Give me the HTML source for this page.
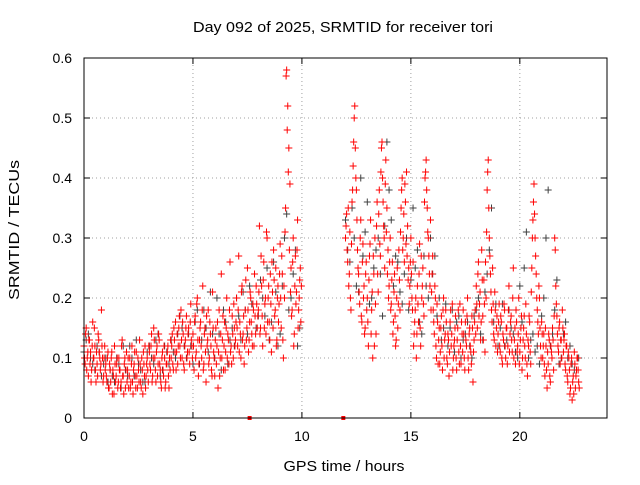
<!DOCTYPE html>
<html><head><meta charset="utf-8"><style>
body{margin:0;background:#fff;width:640px;height:480px;overflow:hidden}
svg text{font-family:"Liberation Sans",sans-serif;font-size:14px;fill:#000}
</style></head><body>
<svg id="chart" width="640" height="480" xmlns="http://www.w3.org/2000/svg">
<rect width="640" height="480" fill="#fff"/>
<text x="343" y="32" text-anchor="middle" style="font-size:15px" textLength="300" lengthAdjust="spacingAndGlyphs">Day 092 of 2025, SRMTID for receiver tori</text>
<text transform="translate(19,230) rotate(-90)" text-anchor="middle" style="font-size:15px" textLength="140" lengthAdjust="spacingAndGlyphs">SRMTID / TECUs</text>
<text x="344" y="471" text-anchor="middle" style="font-size:15px" textLength="121" lengthAdjust="spacingAndGlyphs">GPS time / hours</text>
<g id="grid"></g>
<g id="ticks"></g>
<g id="dark"></g>
<g id="red"></g>
<rect x="84" y="58" width="523" height="360" fill="none" stroke="#000" stroke-width="1"/>
</svg>
<script>
const xTicks=[0,5,10,15,20];
const yTicks=[0,0.1,0.2,0.3,0.4,0.5,0.6];
const yTickLabels=["0","0.1","0.2","0.3","0.4","0.5","0.6"];
const redStep=0.05;
const redA=[.12,.09,.15,.10,.07,.13,.11,.08,.16,.10,.12,.06,.09,.14,.11,.08,.18,.10,.07,.12,
.09,.06,.11,.05,.08,.10,.04,.07,.12,.06,.09,.05,.10,.08,.06,.13,.07,.09,.05,.11,
.08,.05,.10,.06,.12,.04,.09,.07,.11,.05,.08,.13,.06,.10,.04,.09,.12,.07,.10,.06,
.11,.08,.14,.07,.15,.10,.06,.12,.09,.13,.08,.05,.11,.07,.10,.06,.09,.12,.05,.08,
.10,.14,.08,.13,.16,.11,.09,.15,.12,.18,.10,.14,.08,.13,.17,.11,.15,.09,.19,.12,
.14,.08,.17,.11,.20,.07,.13,.16,.10,.22,.09,.15,.06,.12,.18,.10,.14,.08,.21,.11,
.07,.15,.12,.05,.18,.10,.24,.13,.08,.16,.11,.20,.14,.09,.26,.12,.17,.10,.15,.13,
.20,.12,.27,.16,.10,.22,.14,.09,.18,.13,.25,.11,.16,.20,.14,.19,.12,.17,.22,.15,
.18,.32,.15,.22,.12,.26,.19,.14,.30,.20,.16,.24,.11,.21,.28,.17,.25,.13,.22,.19,
.29,.15,.24,.10,.20,.35,.58,.52,.45,.39,.25,.18,.30,.14,.27,.21,.33,.18,.23,.16];
const redA2=[.10,.14,.08,.11,.13,.09,.06,.12,.10,.15,.08,.11,.07,.13,.10,.09,.12,.06,.10,.08,
.07,.10,.05,.09,.06,.11,.08,.04,.09,.07,.10,.06,.08,.05,.12,.07,.04,.10,.08,.06,
.10,.07,.05,.09,.06,.08,.11,.05,.07,.10,.06,.09,.05,.08,.11,.07,.05,.09,.08,.12,
.09,.12,.06,.10,.13,.08,.11,.07,.14,.09,.06,.10,.08,.12,.05,.09,.11,.07,.10,.13,
.12,.09,.15,.11,.08,.14,.12,.17,.10,.13,.16,.09,.12,.15,.10,.14,.11,.16,.13,.10,
.12,.16,.10,.19,.13,.09,.15,.12,.18,.08,.14,.11,.17,.13,.09,.16,.12,.07,.15,.10,
.13,.09,.16,.11,.07,.14,.10,.17,.12,.08,.15,.10,.13,.18,.11,.09,.14,.19,.12,.16,
.15,.18,.11,.14,.21,.13,.17,.12,.23,.15,.18,.13,.21,.16,.12,.18,.24,.14,.19,.17,
.21,.14,.27,.17,.23,.15,.20,.31,.16,.22,.13,.19,.26,.15,.23,.18,.12,.20,.16,.24,
.20,.27,.13,.22,.31,.57,.48,.41,.28,.21,.17,.26,.12,.22,.19,.28,.15,.20,.25,.22];
const redB=[.30,.34,.26,.22,.31,.18,.36,.42,.50,.45,.38,.28,.24,.19,.33,.16,.29,.22,.15,.26,
.20,.12,.27,.33,.18,.10,.24,.30,.14,.36,.21,.38,.27,.45,.40,.32,.25,.43,.35,.28,
.22,.30,.19,.26,.16,.24,.12,.20,.15,.28,.18,.35,.40,.30,.26,.36,.41,.32,.25,.22,
.30,.20,.26,.14,.18,.10,.22,.16,.29,.12,.20,.25,.17,.40,.43,.35,.30,.24,.33,.21,
.27,.16,.22,.12,.19,.09,.15,.11,.17,.08,.20,.13,.18,.10,.14,.07,.16,.12,.19,.10,
.13,.17,.08,.15,.11,.19,.09,.14,.18,.10,.16,.12,.20,.08,.15,.11,.17,.06,.13,.18,
.22,.15,.26,.19,.13,.28,.17,.23,.11,.20,.38,.43,.30,.24,.18,.25,.14,.21,.12,.17,
.14,.19,.11,.16,.09,.13,.18,.10,.15,.12,.22,.14,.17,.11,.25,.13,.09,.16,.12,.20,
.11,.15,.08,.13,.17,.10,.14,.07,.12,.16,.09,.25,.33,.39,.30,.24,.18,.14,.20,.12,
.16,.10,.14,.07,.12,.05,.09,.13,.06,.11,.15,.08,.30,.22,.17,.12,.15,.09,.13,.18,
.11,.14,.08,.12,.06,.10,.04,.09,.03,.07,.11,.05,.08,.10,.06];
const redB2=[.32,.28,.35,.24,.20,.29,.38,.46,.52,.40,.33,.25,.21,.30,.17,.26,.20,.14,.24,.18,
.16,.23,.29,.14,.21,.27,.12,.19,.32,.24,.34,.29,.41,.46,.36,.30,.39,.31,.24,.20,
.26,.18,.23,.14,.21,.17,.13,.25,.19,.23,.31,.38,.28,.34,.39,.29,.27,.23,.19,.26,
.24,.18,.12,.16,.20,.14,.19,.24,.15,.27,.22,.19,.36,.41,.38,.31,.27,.22,.18,.24,
.18,.14,.20,.10,.16,.13,.09,.15,.12,.18,.10,.14,.16,.09,.13,.11,.18,.14,.08,.12,
.15,.10,.13,.18,.09,.12,.16,.11,.14,.08,.13,.17,.10,.14,.12,.09,.15,.11,.16,.14,
.19,.24,.17,.21,.16,.23,.13,.19,.26,.31,.41,.35,.27,.21,.16,.19,.13,.18,.15,.11,
.16,.12,.17,.10,.14,.19,.12,.15,.09,.18,.11,.16,.13,.20,.10,.15,.18,.11,.14,.09,
.13,.17,.10,.15,.12,.19,.09,.13,.17,.11,.21,.30,.36,.34,.27,.20,.16,.22,.15,.10,
.14,.12,.09,.15,.08,.11,.14,.07,.12,.10,.13,.17,.28,.19,.14,.11,.16,.13,.10,.15,
.13,.09,.12,.07,.11,.08,.05,.10,.06,.04,.09,.07,.10,.08,.05];
const darkStep=0.2;
const darkA=[.13,.10,.08,.11,.09,.06,.07,.10,.05,.08,.12,.07,.09,.06,.11,.10,.13,.07,.12,.09,.11,.14,.15,.10,.12,.16,.09,.18,.11,.14,.20,.08,.16,.13,.12,.17,.21,.14,.19,.15,.23,.17,.13,.26,.12,.22,.34,.20,.28,.15];
const darkA2=[.11,.14,.09,.12,.07,.10,.08,.06,.09,.12,.07,.10,.13,.08,.06,.12,.09,.14,.08,.11,.13,.10,.17,.12,.14,.09,.18,.13,.15,.21,.10,.14,.18,.09,.15,.20,.13,.18,.22,.12,.17,.20,.25,.16,.21,.14,.30,.18,.24,.12];
const darkB=[.28,.35,.22,.40,.31,.19,.25,.30,.17,.46,.33,.27,.21,.24,.18,.35,.28,.14,.22,.30,.27,.20,.15,.12,.18,.16,.10,.14,.12,.17,.20,.13,.24,.35,.19,.15,.12,.18,.14,.10,.16,.31,.13,.11,.09,.20,.38,.14,.23,.10,.16,.12,.08,.10];
const darkB2=[.33,.26,.30,.21,.27,.36,.20,.28,.24,.32,.38,.22,.26,.19,.30,.23,.25,.16,.27,.20,.24,.17,.13,.19,.15,.11,.17,.13,.16,.10,.18,.14,.21,.28,.16,.12,.19,.13,.15,.11,.22,.25,.10,.14,.12,.17,.30,.12,.18,.09,.14,.10,.09,.08];
const zeroMarks=[7.6,11.9];

const NS="http://www.w3.org/2000/svg";
const X0=84,X1=607,Y0=418,Y1=58;
const xs=h=>X0+h/24*(X1-X0);
const ys=v=>Y0-v/0.6*(Y0-Y1);
function mk(tag,attrs,parent){const e=document.createElementNS(NS,tag);for(const k in attrs)e.setAttribute(k,attrs[k]);parent.appendChild(e);return e;}
const grid=document.getElementById('grid'),ticks=document.getElementById('ticks');
xTicks.forEach(t=>{const x=xs(t);
 if(t>0){const g=mk('line',{x1:x,x2:x,y1:Y0,y2:Y1,stroke:'#a0a0a0','stroke-dasharray':'1,3'},grid);}
 mk('line',{x1:x,x2:x,y1:Y0,y2:Y0-6,stroke:'#000'},ticks);mk('line',{x1:x,x2:x,y1:Y1,y2:Y1+6,stroke:'#000'},ticks);
 const tx=mk('text',{x:x,y:Y0+23,'text-anchor':'middle'},ticks);tx.textContent=t;
 });
yTicks.forEach((t,i)=>{const y=ys(t);
 if(t>0&&t<0.6){const g=mk('line',{x1:X0,x2:X1,y1:y,y2:y,stroke:'#a0a0a0','stroke-dasharray':'1,3'},grid);}
 mk('line',{x1:X0,x2:X0+6,y1:y,y2:y,stroke:'#000'},ticks);mk('line',{x1:X1,x2:X1-6,y1:y,y2:y,stroke:'#000'},ticks);
 const tx=mk('text',{x:X0-12,y:y+5,'text-anchor':'end'},ticks);tx.textContent=yTickLabels[i];
 });
function plus(g,h,v,color,name){const x=xs(h),y=ys(v);
 const p=mk('path',{d:`M${x-3.5},${y}H${x+3.5}M${x},${y-3.5}V${y+3.5}`,stroke:color,'stroke-width':1,fill:'none'},g);
 
 }
const dg=document.getElementById('dark'),rg=document.getElementById('red');
darkA.forEach((v,i)=>plus(dg,0.1+i*darkStep,v,'#404040','dark-point'));
darkA2.forEach((v,i)=>plus(dg,0.0+i*darkStep,v,'#404040','dark-point'));
darkB.forEach((v,i)=>plus(dg,12.1+i*darkStep,v,'#404040','dark-point'));
darkB2.forEach((v,i)=>plus(dg,12.0+i*darkStep,v,'#404040','dark-point'));
redA.forEach((v,i)=>plus(rg,0+i*redStep,v,'#ff0000','red-point'));
redA2.forEach((v,i)=>plus(rg,0.025+i*redStep,v,'#ff0000','red-point'));
redB.forEach((v,i)=>plus(rg,12+i*redStep,v,'#ff0000','red-point'));
redB2.forEach((v,i)=>plus(rg,12.025+i*redStep,v,'#ff0000','red-point'));
zeroMarks.forEach(h=>{const r=mk('rect',{x:xs(h)-2,y:Y0-2,width:4,height:4,fill:'#ff0000'},rg);
 
 });
</script>
</body></html>
